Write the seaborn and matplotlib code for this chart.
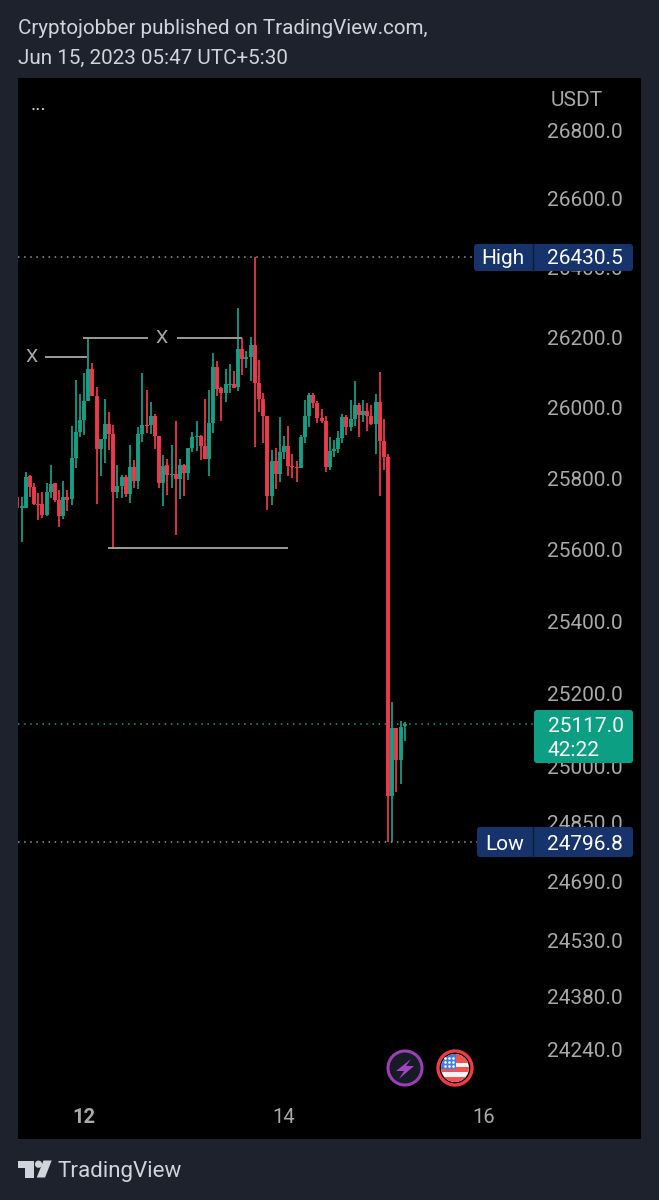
import numpy as np
import pandas as pd
import seaborn as sns
import matplotlib
matplotlib.use("Agg")
import matplotlib.pyplot as plt
from matplotlib.patches import Circle, FancyBboxPatch, Polygon, Rectangle
from matplotlib.ticker import FixedLocator, NullLocator

# Hourly candles, first one at 11 Jun 08:00 (hour -16 relative to 12 Jun 00:00)
first_hour = -16
opens = [25748,25716,25718,25806,25775,25727,25727,25698,25761,25786,25739,25693,25747,25741,25858,25930,25965,26019,
         26110,26034,25883,25910,25954,25926,25761,25778,25805,25756,25831,25792,25926,25951,25951,25977,25920,25788,
         25837,25809,25812,25797,25837,25816,25885,25918,25920,25892,25856,25956,26117,26055,26043,26065,26067,26058,
         26166,26138,26144,26178,26070,26024,25977,25750,25850,25812,25874,25891,25835,25833,25828,25918,25977,26036,
         26014,25970,25963,25831,25878,25883,25914,25973,25944,25967,26007,25979,25990,25977,25954,26017,25905,25859,
         24921,25107,25019,25113]
highs = [25758,25748,25819,25809,25788,25760,25762,25786,25837,25788,25767,25793,25767,25948,26079,26040,26098,26198,
         26128,26060,25911,26025,25989,25951,25837,25809,25809,25894,25852,25944,26098,26051,26017,25982,25920,25866,
         25856,25894,25961,25856,25840,25885,25932,25961,25923,26025,26049,26155,26134,26060,26110,26125,26103,26283,
         26198,26160,26200,26430,26136,26041,25977,25880,25887,25973,25920,25949,25870,25850,25923,26022,26041,26043,
         26020,25995,25975,25916,25908,25935,25982,25979,26022,26077,26014,26022,26012,26008,26040,26100,25968,25870,
         25178,25107,25126,25123]
lows = [25674,25622,25716,25748,25725,25684,25688,25693,25744,25734,25663,25685,25707,25725,25828,25918,25923,26019,
        26032,25727,25806,25844,25880,25604,25744,25744,25748,25730,25772,25769,25903,25929,25926,25882,25772,25723,
        25753,25772,25641,25741,25751,25795,25875,25878,25853,25856,25806,25929,26032,25963,26017,26043,26055,26046,
        26093,26112,26077,25889,25989,25899,25710,25725,25769,25789,25856,25806,25800,25789,25828,25899,25946,25998,
        25956,25956,25819,25825,25861,25872,25899,25923,25935,25948,25916,25958,25935,25951,25870,25750,25823,24796.8,
        24797,24932,24954,25071]
closes = [25716,25721,25805,25775,25727,25725,25698,25762,25783,25739,25695,25747,25739,25858,25930,25965,26019,26110,
          26034,25883,25911,25954,25926,25761,25778,25805,25756,25831,25792,25926,25951,25949,25977,25920,25788,25835,
          25809,25812,25797,25837,25816,25885,25918,25920,25892,25856,25956,26117,26053,26043,26067,26067,26057,26166,
          26138,26145,26178,26070,26024,25977,25750,25850,25812,25874,25891,25835,25831,25829,25918,25977,26036,26014,
          25970,25961,25831,25878,25883,25914,25973,25946,25967,26007,25979,25990,25975,25954,26017,25905,25859,24921,
          25107,25019,25110,25117]

price_ticks = [26800, 26600, 26400, 26200, 26000, 25800, 25600, 25400, 25200, 25000, 24850, 24690, 24530, 24380, 24240]
time_ticks = [0, 48, 96]
time_labels = ["12", "14", "16"]
high_price = 26430.5
low_price = 24796.8
last_price = 25117.0

BG = "#1e222d"
UP = "#189e85"
DOWN = "#ee3a4c"
GREY = "#a9a9a9"
TXT = "#d1d4dc"
W, H = 659, 1200

sns.set_theme(style="dark")
plt.rcParams["font.family"] = ["Roboto", "DejaVu Sans"]

hours = first_hour + np.arange(len(opens))
frame = pd.DataFrame({"hour": hours, "open": opens, "high": highs, "low": lows, "close": closes})
frame["dir"] = np.where(frame["close"] >= frame["open"], "up", "down")
wicks = frame.melt(id_vars=["hour", "dir"], value_vars=["high", "low"], value_name="price")
bodies = frame.melt(id_vars=["hour", "dir"], value_vars=["open", "close"], value_name="price")
palette = {"up": UP, "down": DOWN}

fig = plt.figure(figsize=(W / 100, H / 100), dpi=100, facecolor=BG)
L, R, T, B = 18, 641, 78, 1139
ax = fig.add_axes([L / W, 1 - B / H, (R - L) / W, (B - T) / H], facecolor="black")
ax.set_yscale("log")

sns.lineplot(data=wicks, x="hour", y="price", hue="dir", units="hour", estimator=None, palette=palette,
             linewidth=1.25, legend=False, ax=ax, sort=False, solid_capstyle="butt")
sns.lineplot(data=bodies, x="hour", y="price", hue="dir", units="hour", estimator=None, palette=palette,
             linewidth=2.8, legend=False, ax=ax, sort=False, solid_capstyle="butt")

ax.set_xlim(-15.84, 133.68)
ax.set_ylim(24005, 26952.6)
ax.set_xlabel("")
ax.set_ylabel("")
ax.grid(False)
for s in ax.spines.values():
    s.set_visible(False)

ax.yaxis.tick_right()
ax.yaxis.set_major_locator(FixedLocator(price_ticks))
ax.yaxis.set_minor_locator(NullLocator())
ax.set_yticklabels([f"{p:.1f}" for p in price_ticks])
ax.tick_params(axis="y", which="major", length=0, pad=-13, labelsize=15, labelcolor=GREY)
for lab in ax.get_yticklabels():
    lab.set_ha("right")
ax.set_xticks(time_ticks)
ax.set_xticklabels(time_labels)
ax.tick_params(axis="x", length=0, pad=-22, labelsize=14.5, labelcolor=GREY)
ax.get_xticklabels()[0].set_fontweight("bold")

# Level lines
ax.hlines(high_price, -15.84, 94.5, colors="#8f9a9a", linewidth=1.1, linestyles=(0, (1, 3)))
ax.hlines(low_price, -15.84, 95.5, colors="#8f9a9a", linewidth=1.1, linestyles=(0, (1, 3)))
ax.hlines(last_price, -15.84, 108, colors=UP, linewidth=1.1, linestyles=(0, (1, 3)))

# Hand-drawn annotations
ax.hlines(26144, -9.4, 0.7, colors="#9c9c9c", linewidth=1.4)
ax.hlines(26197, -0.24, 15.4, colors="#9c9c9c", linewidth=1.4)
ax.hlines(26197, 22.3, 37.9, colors="#9c9c9c", linewidth=1.4)
ax.hlines(25605, 5.8, 49, colors="#9c9c9c", linewidth=1.4)
ax.text(-12.7, 26144, "X", color=GREY, fontsize=14, ha="center", va="center")
ax.text(18.7, 26197, "X", color=GREY, fontsize=14, ha="center", va="center")

# Overlay in pixel coordinates for chrome
ov = fig.add_axes([0, 0, 1, 1], facecolor="none")
ov.set_xlim(0, W)
ov.set_ylim(H, 0)
ov.axis("off")


def tag(x0, y0, x1, y1, color):
    ov.add_patch(FancyBboxPatch((x0 + 3, y0 + 3), x1 - x0 - 6, y1 - y0 - 6,
                                boxstyle="round,pad=3,rounding_size=3", fc=color, ec="none", zorder=3))


NAVY = "#17336b"
tag(474, 244, 633, 271, NAVY)
ov.plot([533, 533], [244, 271], color="#0d1c3d", lw=1, zorder=4)
ov.text(503, 258, "High", color="white", fontsize=15, ha="center", va="center", zorder=5)
ov.text(623, 259, "26430.5", color="white", fontsize=15, ha="right", va="center", zorder=5)
tag(477, 827, 633, 857, NAVY)
ov.plot([533, 533], [827, 857], color="#0d1c3d", lw=1, zorder=4)
ov.text(505, 844, "Low", color="white", fontsize=15, ha="center", va="center", zorder=5)
ov.text(623, 844, "24796.8", color="white", fontsize=15, ha="right", va="center", zorder=5)
tag(534, 710, 633, 763, "#0d9f84")
ov.text(548, 726, "25117.0", color="white", fontsize=15, ha="left", va="center", zorder=5)
ov.text(548, 750, "42:22", color="white", fontsize=15, ha="left", va="center", zorder=5)

ov.text(577, 100, "USDT", color=GREY, fontsize=15, ha="center", va="center")
ov.text(39, 105, "...", color="#d0d0d0", fontsize=14, ha="center", va="center")
ov.text(18, 28, "Cryptojobber published on TradingView.com,", color=TXT, fontsize=14.85, ha="left", va="center")
ov.text(18, 58, "Jun 15, 2023 05:47 UTC+5:30", color=TXT, fontsize=14.85, ha="left", va="center")
ov.text(58, 1171, "TradingView", color=TXT, fontsize=16.1, ha="left", va="center")

# TradingView logo
ov.add_patch(Polygon([(17.5, 1160.5), (33.5, 1160.5), (33.5, 1177.5), (25, 1177.5), (25, 1168), (17.5, 1168)],
                     fc=TXT, ec="none"))
ov.add_patch(Circle((38.5, 1164.2), 3.6, fc=TXT, ec="none"))
ov.add_patch(Polygon([(43.5, 1160.5), (51.7, 1160.5), (45, 1177.5), (36.7, 1177.5)], fc=TXT, ec="none"))

# Icons
ov.add_patch(Circle((405, 1068), 17, fc="#171b26", ec="#9c3fb5", lw=2.2))
ov.add_patch(Polygon([(411, 1059), (396, 1071), (404, 1071), (399, 1079), (414, 1066), (406, 1066)],
                     fc="#a444c4", ec="none"))
clip = Circle((455, 1068), 14, transform=ov.transData)
ov.add_patch(Circle((455, 1068), 14, fc="#f4f4f4", ec="none"))
for y0, y1 in ((1054, 1063), (1067, 1072), (1077, 1083)):
    r = Rectangle((440, y0), 30, y1 - y0, fc="#ef5350", ec="none")
    ov.add_patch(r)
    r.set_clip_path(clip)
r = Rectangle((440, 1053), 15.5, 16, fc="#3f7ee0", ec="none")
ov.add_patch(r)
r.set_clip_path(clip)
ov.scatter([445, 449, 453, 445, 449, 453, 445, 449, 453], [1058, 1058, 1058, 1062, 1062, 1062, 1066, 1066, 1066],
           s=3.5, c="white", linewidths=0)
ov.add_patch(Circle((455, 1068), 17, fc="none", ec="#ee3b47", lw=2.4))

ov.set_xlim(0, W)
ov.set_ylim(H, 0)
fig.savefig("out.png", dpi=100, facecolor=BG)
